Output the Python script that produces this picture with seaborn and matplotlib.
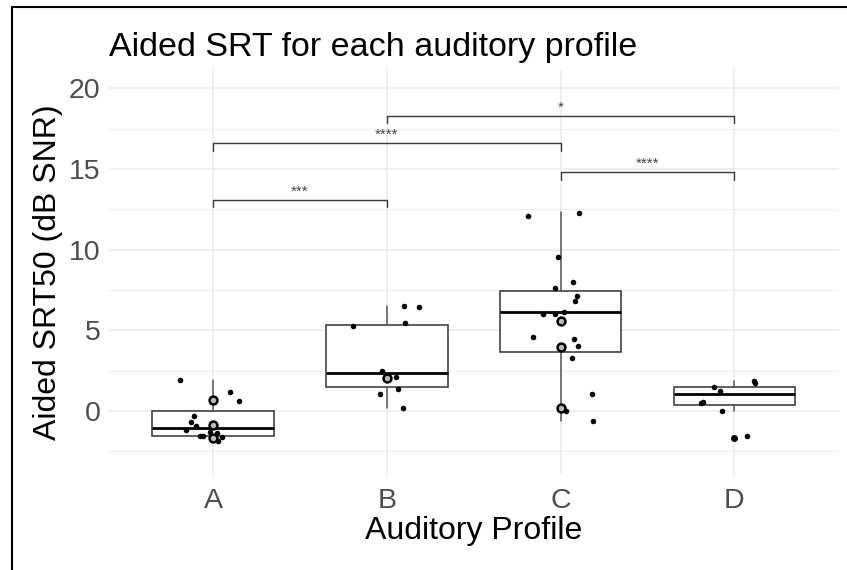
import numpy as np
import pandas as pd
import matplotlib
matplotlib.use("Agg")
import matplotlib.pyplot as plt
from matplotlib.lines import Line2D
from matplotlib.ticker import MultipleLocator
import seaborn as sns

profiles = ["A", "B", "C", "D"]

pt_profile = (["A"] * 13) + (["B"] * 9) + (["C"] * 17) + (["D"] * 8)
pt_srt = [
    1.92, 1.16, 0.62, -0.31, -0.66, -0.93, -1.18, -1.28, -1.53, -1.55, -1.38, -1.59, -1.84,
    6.54, 6.42, 5.45, 5.26, 2.48, 2.12, 1.36, 1.07, 0.20,
    12.09, 12.30, 9.55, 7.99, 7.60, 7.16, 6.81, 5.99, 5.99, 6.15, 4.56, 4.48, 4.02, 3.26, 1.07, 0.02, -0.62,
    1.88, 1.71, 1.47, 1.26, 0.58, 0.48, -0.02, -1.57,
]
pt_jitter = [
    -0.19, 0.095, 0.15, -0.11, -0.13, -0.10, -0.155, -0.02, -0.06, -0.075, 0.02, 0.048, 0.03,
    0.098, 0.182, 0.106, -0.195, -0.029, 0.054, 0.065, -0.042, 0.09,
    -0.187, 0.103, -0.017, 0.07, -0.03, 0.094, 0.084, -0.10, -0.03, 0.02, -0.16, 0.075, 0.10, 0.063, 0.178, 0.033, 0.185,
    0.113, 0.12, -0.115, -0.083, -0.18, -0.19, -0.069, 0.07,
]

# points sitting on the box centre line (drawn as rings)
ring_profile = ["A", "A", "A", "B", "C", "C", "C"]
ring_srt = [0.68, -0.87, -1.66, 2.02, 5.57, 3.98, 0.20]

# box summaries
box_q1 = [-1.53, 1.49, 3.65, 0.37]
box_med = [-1.06, 2.35, 6.11, 1.03]
box_q3 = [0.00, 5.33, 7.47, 1.51]
box_lo = [-1.88, 0.22, -0.64, 0.02]
box_hi = [1.90, 6.52, 12.35, 1.85]
box_out = [[], [], [], [-1.65]]

# significance brackets
cmp_from = ["A", "A", "C", "B"]
cmp_to = ["B", "C", "D", "D"]
cmp_y = [13.1, 16.6, 14.8, 18.3]
cmp_label = ["***", "****", "****", "*"]

sns.set_theme(style="whitegrid")
plt.rcParams["font.family"] = ["Liberation Sans", "DejaVu Sans"]

pos = {p: i for i, p in enumerate(profiles)}
points = pd.DataFrame({"profile": pt_profile, "srt": pt_srt, "jit": pt_jitter})
points["x"] = points["profile"].map(pos) + points["jit"]
rings = pd.DataFrame({"profile": ring_profile, "srt": ring_srt})
rings["x"] = rings["profile"].map(pos).astype(float)

fig = plt.figure(figsize=(8.47, 5.70), dpi=100)
ax = fig.add_axes([109 / 847, 1 - 475 / 570, (838.6 - 109) / 847, (475 - 68.6) / 570])

stats = [
    dict(q1=a, med=m, q3=b, whislo=lo, whishi=hi, fliers=f)
    for a, m, b, lo, hi, f in zip(box_q1, box_med, box_q3, box_lo, box_hi, box_out)
]
ax.bxp(
    stats, positions=range(len(profiles)), widths=0.7, showcaps=False, patch_artist=True,
    boxprops=dict(facecolor="white", edgecolor="#333333", linewidth=1.1),
    medianprops=dict(color="black", linewidth=2.0),
    whiskerprops=dict(color="#555555", linewidth=1.1),
    flierprops=dict(marker="o", markerfacecolor="black", markeredgecolor="black", markersize=4),
)

sns.scatterplot(data=points, x="x", y="srt", color="black", s=16, linewidth=0, ax=ax, zorder=3)
sns.scatterplot(data=rings, x="x", y="srt", color="#bdbdbd", edgecolor="black", s=32,
                linewidth=1.8, ax=ax, zorder=4)

for a, b, y, lab in zip(cmp_from, cmp_to, cmp_y, cmp_label):
    x0, x1 = pos[a], pos[b]
    ax.plot([x0, x0, x1, x1], [y - 0.47, y, y, y - 0.47], color="#3a3a3a", lw=1.0, zorder=2)
    ax.text((x0 + x1) / 2, y + 0.5, lab, ha="center", va="center", fontsize=11, color="#444444")

ax.set_xlim(-0.6, 3.6)
ax.set_ylim(-3.96, 21.22)
ax.set_xticks(range(len(profiles)))
ax.set_xticklabels(profiles)
ax.set_yticks([0, 5, 10, 15, 20])
ax.yaxis.set_minor_locator(MultipleLocator(2.5))
ax.grid(which="major", color="#EBEBEB", linewidth=1.1)
ax.grid(which="minor", axis="y", color="#EBEBEB", linewidth=0.6)
ax.tick_params(which="both", length=0, labelsize=20.5, labelcolor="#4D4D4D")
ax.tick_params(axis="x", pad=9)
ax.tick_params(axis="y", pad=6)
for s in ax.spines.values():
    s.set_visible(False)
ax.set_facecolor("white")

ax.set_xlabel("Auditory Profile", fontsize=23, color="black", labelpad=2)
ax.set_ylabel("Aided SRT50 (dB SNR)", fontsize=23, color="black", labelpad=4)
fig.text(109 / 847, 1 - 56 / 570, "Aided SRT for each auditory profile", fontsize=24.5,
         ha="left", va="baseline", color="black")

# frame edges visible in the screenshot
fig.add_artist(Line2D([12 / 847, 12 / 847], [0, 1 - 7 / 570], color="black", lw=1.5))
fig.add_artist(Line2D([12 / 847, 1], [1 - 7 / 570, 1 - 7 / 570], color="black", lw=1.5))

fig.savefig("out.png", dpi=100)
